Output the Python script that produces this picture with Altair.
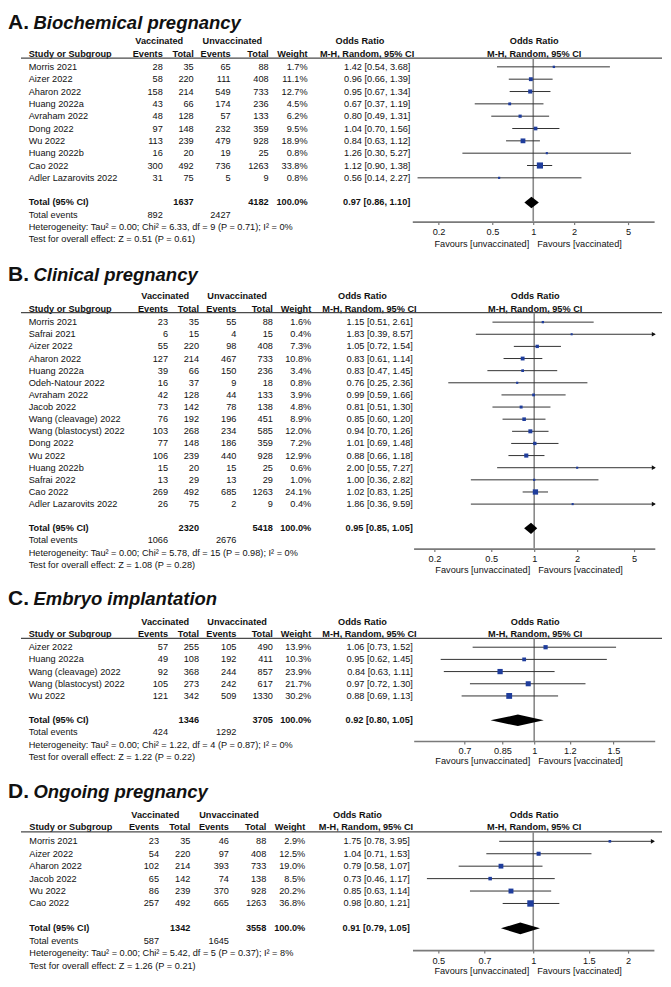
import altair as alt
import pandas as pd

FONT = "Liberation Sans"
TXT = "#111111"
BLUE = "#1f3d9c"
FS = 9.2
W = 655

# ================= DATA =================
# A. Biochemical pregnancy
A_study = ["Morris 2021", "Aizer 2022", "Aharon 2022", "Huang 2022a", "Avraham 2022",
           "Dong 2022", "Wu 2022", "Huang 2022b", "Cao 2022", "Adler Lazarovits 2022"]
A_vac_events = [28, 58, 158, 43, 48, 97, 113, 16, 300, 31]
A_vac_total = [35, 220, 214, 66, 128, 148, 239, 20, 492, 75]
A_unv_events = [65, 111, 549, 174, 57, 232, 479, 19, 736, 5]
A_unv_total = [88, 408, 733, 236, 133, 359, 928, 25, 1263, 9]
A_weight = [1.7, 11.1, 12.7, 4.5, 6.2, 9.5, 18.9, 0.8, 33.8, 0.8]
A_or = [1.42, 0.96, 0.95, 0.67, 0.80, 1.04, 0.84, 1.26, 1.12, 0.56]
A_lo = [0.54, 0.66, 0.67, 0.37, 0.49, 0.70, 0.63, 0.30, 0.90, 0.14]
A_hi = [3.68, 1.39, 1.34, 1.19, 1.31, 1.56, 1.12, 5.27, 1.38, 2.27]
A_total = [1637, 4182]
A_events = [892, 2427]
A_pooled = [0.97, 0.86, 1.10]
A_het = "Heterogeneity: Tau² = 0.00; Chi² = 6.33, df = 9 (P = 0.71); I² = 0%"
A_test = "Test for overall effect: Z = 0.51 (P = 0.61)"
A_ticks = [0.2, 0.5, 1, 2, 5]

# B. Clinical pregnancy
B_study = ["Morris 2021", "Safrai 2021", "Aizer 2022", "Aharon 2022", "Huang 2022a",
           "Odeh-Natour 2022", "Avraham 2022", "Jacob 2022", "Wang (cleavage) 2022",
           "Wang (blastocyst) 2022", "Dong 2022", "Wu 2022", "Huang 2022b", "Safrai 2022",
           "Cao 2022", "Adler Lazarovits 2022"]
B_vac_events = [23, 6, 55, 127, 39, 16, 42, 73, 76, 103, 77, 106, 15, 13, 269, 26]
B_vac_total = [35, 15, 220, 214, 66, 37, 128, 142, 192, 268, 148, 239, 20, 29, 492, 75]
B_unv_events = [55, 4, 98, 467, 150, 9, 44, 78, 196, 234, 186, 440, 15, 13, 685, 2]
B_unv_total = [88, 15, 408, 733, 236, 18, 133, 138, 451, 585, 359, 928, 25, 29, 1263, 9]
B_weight = [1.6, 0.4, 7.3, 10.8, 3.4, 0.8, 3.9, 4.8, 8.9, 12.0, 7.2, 12.9, 0.6, 1.0, 24.1, 0.4]
B_or = [1.15, 1.83, 1.05, 0.83, 0.83, 0.76, 0.99, 0.81, 0.85, 0.94, 1.01, 0.88, 2.00, 1.00, 1.02, 1.86]
B_lo = [0.51, 0.39, 0.72, 0.61, 0.47, 0.25, 0.59, 0.51, 0.60, 0.70, 0.69, 0.66, 0.55, 0.36, 0.83, 0.36]
B_hi = [2.61, 8.57, 1.54, 1.14, 1.45, 2.36, 1.66, 1.30, 1.20, 1.26, 1.48, 1.18, 7.27, 2.82, 1.25, 9.59]
B_total = [2320, 5418]
B_events = [1066, 2676]
B_pooled = [0.95, 0.85, 1.05]
B_het = "Heterogeneity: Tau² = 0.00; Chi² = 5.78, df = 15 (P = 0.98); I² = 0%"
B_test = "Test for overall effect: Z = 1.08 (P = 0.28)"
B_ticks = [0.2, 0.5, 1, 2, 5]

# C. Embryo implantation
C_study = ["Aizer 2022", "Huang 2022a", "Wang (cleavage) 2022", "Wang (blastocyst) 2022", "Wu 2022"]
C_vac_events = [57, 49, 92, 105, 121]
C_vac_total = [255, 108, 368, 273, 342]
C_unv_events = [105, 192, 244, 242, 509]
C_unv_total = [490, 411, 857, 617, 1330]
C_weight = [13.9, 10.3, 23.9, 21.7, 30.2]
C_or = [1.06, 0.95, 0.84, 0.97, 0.88]
C_lo = [0.73, 0.62, 0.63, 0.72, 0.69]
C_hi = [1.52, 1.45, 1.11, 1.30, 1.13]
C_total = [1346, 3705]
C_events = [424, 1292]
C_pooled = [0.92, 0.80, 1.05]
C_het = "Heterogeneity: Tau² = 0.00; Chi² = 1.22, df = 4 (P = 0.87); I² = 0%"
C_test = "Test for overall effect: Z = 1.22 (P = 0.22)"
C_ticks = [0.7, 0.85, 1, 1.2, 1.5]

# D. Ongoing pregnancy
D_study = ["Morris 2021", "Aizer 2022", "Aharon 2022", "Jacob 2022", "Wu 2022", "Cao 2022"]
D_vac_events = [23, 54, 102, 65, 86, 257]
D_vac_total = [35, 220, 214, 142, 239, 492]
D_unv_events = [46, 97, 393, 74, 370, 665]
D_unv_total = [88, 408, 733, 138, 928, 1263]
D_weight = [2.9, 12.5, 19.0, 8.5, 20.2, 36.8]
D_or = [1.75, 1.04, 0.79, 0.73, 0.85, 0.98]
D_lo = [0.78, 0.71, 0.58, 0.46, 0.63, 0.80]
D_hi = [3.95, 1.53, 1.07, 1.17, 1.14, 1.21]
D_total = [1342, 3558]
D_events = [587, 1645]
D_pooled = [0.91, 0.79, 1.05]
D_het = "Heterogeneity: Tau² = 0.00; Chi² = 5.42, df = 5 (P = 0.37); I² = 8%"
D_test = "Test for overall effect: Z = 1.26 (P = 0.21)"
D_ticks = [0.5, 0.7, 1, 1.5, 2]

PANELS = [
    dict(letter="A.", name="Biochemical pregnancy", study=A_study, ve=A_vac_events, vt=A_vac_total,
         ue=A_unv_events, ut=A_unv_total, w=A_weight, est=A_or, lo=A_lo, hi=A_hi, total=A_total,
         events=A_events, pooled=A_pooled, het=A_het, test=A_test, ticks=A_ticks),
    dict(letter="B.", name="Clinical pregnancy", study=B_study, ve=B_vac_events, vt=B_vac_total,
         ue=B_unv_events, ut=B_unv_total, w=B_weight, est=B_or, lo=B_lo, hi=B_hi, total=B_total,
         events=B_events, pooled=B_pooled, het=B_het, test=B_test, ticks=B_ticks),
    dict(letter="C.", name="Embryo implantation", study=C_study, ve=C_vac_events, vt=C_vac_total,
         ue=C_unv_events, ut=C_unv_total, w=C_weight, est=C_or, lo=C_lo, hi=C_hi, total=C_total,
         events=C_events, pooled=C_pooled, het=C_het, test=C_test, ticks=C_ticks),
    dict(letter="D.", name="Ongoing pregnancy", study=D_study, ve=D_vac_events, vt=D_vac_total,
         ue=D_unv_events, ut=D_unv_total, w=D_weight, est=D_or, lo=D_lo, hi=D_hi, total=D_total,
         events=D_events, pooled=D_pooled, het=D_het, test=D_test, ticks=D_ticks),
]

# ================= LAYOUT (row units / pixel column positions) =================
COLS_A = dict(name=20.7, ve=155, vt=186, ue=223, ut=261, w=300, ortxt=403, vac=151.5, unv=224.7,
              orh1=352.5, orh2=359.6, fh=527, l0=13, l1=655, t1=0, t2=25.5)
COLS_B = dict(name=20.7, ve=160.3, vt=191.3, ue=228.7, ut=265.3, w=303.7, ortxt=405.5, vac=157.5,
              unv=229.5, orh1=355, orh2=362, fh=528, l0=13, l1=655, t1=0, t2=25.5)
COLS_D = dict(name=21.3, ve=151.3, vt=182.7, ue=221.3, ut=258.7, w=297.7, ortxt=402.5, vac=147.5,
              unv=221.3, orh1=350, orh2=358.5, fh=527, l0=13, l1=655, t1=0, t2=25.5)

LAYOUT = [
    dict(s=12.35, r_top=-4.47, r_axis=12.55, r_title=-3.58, r_h1=-2.09, r_h2=-1.07, r_line=-0.71,
         r_fav=14.4, cols=COLS_A, fdom=[0.128, 7.8], frange=[404.9, 647.1]),
    dict(s=12.15, r_top=-8.22, r_axis=18.67, r_title=-3.9, r_h1=-2.12, r_h2=-1.09, r_line=-0.78,
         r_fav=20.44, cols=COLS_B, fdom=[1 / 7, 7], frange=[406.2, 647.8]),
    dict(s=12.2, r_top=-8.07, r_axis=7.70, r_title=-3.92, r_h1=-2.07, r_h2=-1.08, r_line=-0.72,
         r_fav=9.36, cols=COLS_B, fdom=[0.54, 1.852], frange=[406.3, 647.7]),
    dict(s=12.45, r_top=-8.02, r_axis=8.75, r_title=-3.96, r_h1=-2.13, r_h2=-1.12, r_line=-0.76,
         r_fav=10.41, cols=COLS_D, fdom=[0.414, 2.414], frange=[405.1, 646.9]),
]

TX = alt.Scale(domain=[0, W], range=[0, W], nice=False, zero=False)


def text_layer(cells, ys, align, weight="normal", style="normal", size=FS):
    df = pd.DataFrame(cells, columns=["tx", "row", "text"])
    return alt.Chart(df).mark_text(
        align=align, baseline="middle", font=FONT, fontSize=size,
        fontWeight=weight, fontStyle=style, color=TXT
    ).encode(
        x=alt.X("tx:Q", scale=TX, axis=None),
        y=alt.Y("row:Q", scale=ys, axis=None),
        text="text:N",
    )


def fmt_ci(e, l, h):
    return f"{e:.2f} [{l:.2f}, {h:.2f}]"


def build_panel(p, L):
    n = len(p["study"])
    C = L["cols"]
    ys = alt.Scale(domain=[L["r_top"], L["r_axis"]], reverse=True, nice=False, zero=False)
    fx = alt.Scale(type="log", domain=L["fdom"], range=L["frange"], clamp=True, nice=False)
    H = round((L["r_axis"] - L["r_top"]) * L["s"], 2)
    r_tot, r_ev, r_het, r_test = n + 1, n + 2, n + 3, n + 4

    layers = []
    # titles
    layers.append(text_layer([(C["t1"], L["r_title"], p["letter"])], ys, "left", "bold", "normal", 21))
    layers.append(text_layer([(C["t2"], L["r_title"], p["name"])], ys, "left", "bold", "italic", 18.5))

    # header
    center_b = [(C["vac"], L["r_h1"], "Vaccinated"), (C["unv"], L["r_h1"], "Unvaccinated"),
                (C["orh1"], L["r_h1"], "Odds Ratio"), (C["fh"], L["r_h1"], "Odds Ratio"),
                (C["orh2"], L["r_h2"], "M-H, Random, 95% CI"), (C["fh"], L["r_h2"], "M-H, Random, 95% CI")]
    left_b = [(C["name"], L["r_h2"], "Study or Subgroup"), (C["name"], r_tot, "Total (95% CI)")]
    right_b = [(C["ve"], L["r_h2"], "Events"), (C["vt"], L["r_h2"], "Total"),
               (C["ue"], L["r_h2"], "Events"), (C["ut"], L["r_h2"], "Total"),
               (C["w"], L["r_h2"], "Weight"),
               (C["vt"], r_tot, str(p["total"][0])), (C["ut"], r_tot, str(p["total"][1])),
               (C["w"], r_tot, "100.0%"), (C["ortxt"], r_tot, fmt_ci(*p["pooled"]))]
    left_n = [(C["name"], i, s) for i, s in enumerate(p["study"])]
    left_n += [(C["name"], r_ev, "Total events"), (C["name"], r_het, p["het"]),
               (C["name"], r_test, p["test"])]
    right_n = []
    for i in range(n):
        right_n += [(C["ve"], i, str(p["ve"][i])), (C["vt"], i, str(p["vt"][i])),
                    (C["ue"], i, str(p["ue"][i])), (C["ut"], i, str(p["ut"][i])),
                    (C["w"], i, f"{p['w'][i]:.1f}%"),
                    (C["ortxt"], i, fmt_ci(p["est"][i], p["lo"][i], p["hi"][i]))]
    right_n += [(C["ve"], r_ev, str(p["events"][0])), (C["ue"], r_ev, str(p["events"][1]))]

    layers.append(text_layer(center_b, ys, "center", "bold"))
    layers.append(text_layer(left_b, ys, "left", "bold"))
    layers.append(text_layer(right_b, ys, "right", "bold"))
    layers.append(text_layer(left_n, ys, "left"))
    layers.append(text_layer(right_n, ys, "right"))

    # header rule
    hdr = pd.DataFrame({"x0": [C["l0"]], "x1": [C["l1"]], "row": [L["r_line"]]})
    layers.append(alt.Chart(hdr).mark_rule(color="#4a4a4a", strokeWidth=1.2).encode(
        x=alt.X("x0:Q", scale=TX, axis=None), x2="x1:Q",
        y=alt.Y("row:Q", scale=ys, axis=None)))

    # line of no effect + axis
    vdf = pd.DataFrame({"v": [1.0], "r1": [L["r_line"]], "r2": [L["r_axis"]]})
    axis = alt.Axis(values=p["ticks"], labelExpr="format(datum.value, '~g')", title=None, grid=False,
                    orient="bottom", domainColor="#7a7a7a", domainWidth=1.6, tickColor="#7a7a7a",
                    tickWidth=1.2, tickSize=3, labelFont=FONT, labelFontSize=FS, labelColor=TXT,
                    labelPadding=3, labelFlush=False, labelOverlap=False)
    layers.append(alt.Chart(vdf).mark_rule(color="#8a8a8a", strokeWidth=1.6).encode(
        x=alt.X("v:Q", scale=fx, axis=axis),
        y=alt.Y("r1:Q", scale=ys, axis=None), y2="r2:Q"))

    # CI whiskers
    cdf = pd.DataFrame({"row": list(range(n)), "est": p["est"], "lo": p["lo"], "hi": p["hi"], "w": p["w"]})
    layers.append(alt.Chart(cdf).mark_rule(color="#333333", strokeWidth=1).encode(
        x=alt.X("lo:Q", scale=fx, axis=None), x2="hi:Q",
        y=alt.Y("row:Q", scale=ys, axis=None)))
    # squares
    layers.append(alt.Chart(cdf).mark_square(filled=True, color=BLUE, opacity=1).encode(
        x=alt.X("est:Q", scale=fx, axis=None),
        y=alt.Y("row:Q", scale=ys, axis=None),
        size=alt.Size("w:Q", scale=alt.Scale(domain=[0, 40], range=[4, 44]), legend=None)))
    # arrows for clipped intervals
    right_clip = cdf[cdf["hi"] > L["fdom"][1]]
    if len(right_clip):
        layers.append(alt.Chart(right_clip).mark_point(
            shape="triangle-right", filled=True, color="#111111", size=22, opacity=1, xOffset=-1).encode(
            x=alt.X("hi:Q", scale=fx, axis=None),
            y=alt.Y("row:Q", scale=ys, axis=None)))
    left_clip = cdf[cdf["lo"] < L["fdom"][0]]
    if len(left_clip):
        layers.append(alt.Chart(left_clip).mark_point(
            shape="triangle-left", filled=True, color="#111111", size=22, opacity=1, xOffset=1).encode(
            x=alt.X("lo:Q", scale=fx, axis=None),
            y=alt.Y("row:Q", scale=ys, axis=None)))
    # pooled diamond
    e, l, h = p["pooled"]
    hh = 0.47
    ddf = pd.DataFrame({"x": [l, e, h], "ya": [r_tot, r_tot - hh, r_tot], "yb": [r_tot, r_tot + hh, r_tot]})
    layers.append(alt.Chart(ddf).mark_area(color="#000000", opacity=1, orient="vertical").encode(
        x=alt.X("x:Q", scale=fx, axis=None),
        y=alt.Y("ya:Q", scale=ys, axis=None), y2="yb:Q"))
    # favours labels
    fdf = pd.DataFrame({"v": [1.0], "row": [L["r_fav"]]})
    for txt, al, dx in [("Favours [unvaccinated]", "right", -4), ("Favours [vaccinated]", "left", 4)]:
        layers.append(alt.Chart(fdf).mark_text(
            align=al, baseline="middle", dx=dx, font=FONT, fontSize=FS, color=TXT).encode(
            x=alt.X("v:Q", scale=fx, axis=None),
            y=alt.Y("row:Q", scale=ys, axis=None),
            text=alt.value(txt)))

    return alt.layer(*layers).resolve_scale(x="independent").properties(width=W, height=H)


panels = [build_panel(p, L) for p, L in zip(PANELS, LAYOUT)]
chart = alt.vconcat(*panels, spacing=0, bounds="flush").properties(
    padding={"left": 0, "right": 0, "top": 2, "bottom": 0}
).configure_view(stroke=None)
chart.save("out.html", embed_options={"renderer": "svg", "actions": False})
